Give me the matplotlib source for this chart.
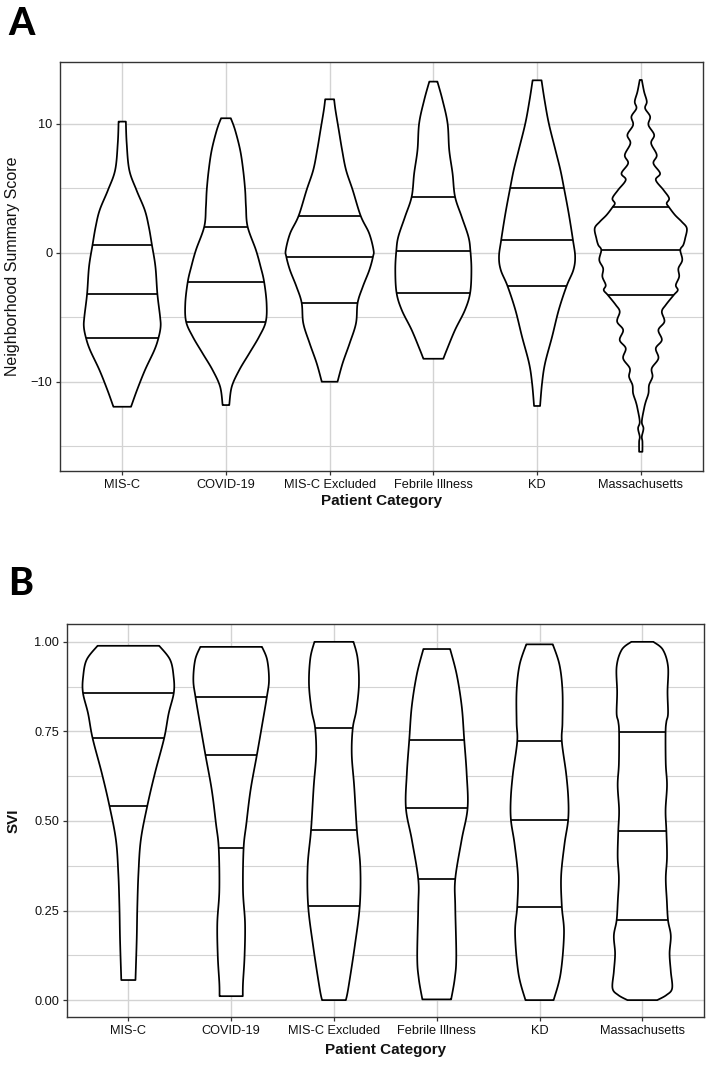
import numpy as np
import matplotlib
matplotlib.use("Agg")
import matplotlib.pyplot as plt

plt.rcParams['font.family'] = ['Liberation Sans', 'DejaVu Sans']

categories = ["MIS-C", "COVID-19", "MIS-C Excluded", "Febrile Illness", "KD", "Massachusetts"]

# Panel A: Neighborhood Summary Score, violin outline (score level, half width)
nss_misc_y = [-11.94, -10.64, -9.09, -7.55, -6.59, -5.74, -4.96, -3.2, -1.08, 0.62, 2.02, 3.31, 4.86, 6.41, 8.48, 10.16]
nss_misc_w = [0.085, 0.143, 0.22, 0.31, 0.35, 0.37, 0.365, 0.339, 0.32, 0.286, 0.256, 0.217, 0.137, 0.068, 0.043, 0.035]
nss_covid_y = [-11.81, -10.39, -9.09, -7.8, -6.51, -5.35, -3.93, -2.25, -1.08, 0.21, 2.02, 3.57, 4.86, 6.41, 7.96, 9.51, 10.42]
nss_covid_w = [0.032, 0.056, 0.129, 0.225, 0.32, 0.384, 0.392, 0.368, 0.334, 0.289, 0.209, 0.193, 0.185, 0.166, 0.137, 0.088, 0.047]
nss_excl_y = [-10.0, -8.57, -7.02, -5.47, -3.88, -2.63, -1.34, -0.31, 0.21, 1.5, 2.84, 4.86, 6.41, 7.96, 9.51, 11.06, 11.89]
nss_excl_w = [0.076, 0.125, 0.193, 0.254, 0.27, 0.32, 0.383, 0.418, 0.423, 0.381, 0.30, 0.222, 0.158, 0.12, 0.088, 0.056, 0.043]
nss_febrile_y = [-8.22, -7.54, -5.99, -4.44, -3.1, -1.34, 0.16, 1.24, 2.79, 4.34, 6.15, 7.96, 10.03, 11.84, 13.26]
nss_febrile_w = [0.096, 0.129, 0.209, 0.305, 0.355, 0.367, 0.357, 0.338, 0.273, 0.209, 0.185, 0.153, 0.137, 0.088, 0.039]
nss_kd_y = [-11.88, -10.12, -8.57, -6.51, -4.44, -2.58, -1.34, -0.31, 0.98, 3.05, 4.99, 6.41, 7.96, 10.03, 11.84, 13.36]
nss_kd_w = [0.029, 0.048, 0.077, 0.145, 0.209, 0.285, 0.35, 0.367, 0.346, 0.305, 0.26, 0.225, 0.177, 0.113, 0.072, 0.043]
nss_mass_y = [-15.43, -14.65, -14.26, -13.62, -13.1, -12.07, -11.55, -10.9, -10.26, -9.61, -8.96, -8.19,
              -7.41, -6.77, -5.99, -5.34, -4.57, -4.05, -3.28, -2.9, -2.51, -1.86, -1.22, -0.57, 0.21,
              0.6, 1.11, 1.89, 2.4, 2.92, 3.52, 3.83, 4.22, 4.86, 5.64, 6.15, 6.93, 7.57, 8.48, 9.13,
              9.9, 10.55, 11.19, 11.71, 12.48, 13.39]
nss_mass_w = [0.016, 0.016, 0.01, 0.026, 0.01, 0.032, 0.048, 0.074, 0.08, 0.113, 0.106, 0.17,
              0.145, 0.203, 0.17, 0.228, 0.203, 0.241, 0.318, 0.357, 0.338, 0.37, 0.363, 0.40, 0.381,
              0.41, 0.428, 0.444, 0.395, 0.33, 0.273, 0.25, 0.273, 0.219, 0.145, 0.186, 0.122, 0.154, 0.10, 0.129,
              0.074, 0.09, 0.042, 0.058, 0.032, 0.01]
nss_quartiles = [[-6.59, -3.2, 0.62], [-5.35, -2.25, 2.02], [-3.88, -0.31, 2.84],
                 [-3.1, 0.16, 4.34], [-2.58, 0.98, 5.04], [-3.28, 0.21, 3.52]]

# Panel B: SVI
svi_misc_y = [0.056, 0.168, 0.26, 0.354, 0.447, 0.542, 0.633, 0.731, 0.80, 0.858, 0.903, 0.95, 0.989]
svi_misc_w = [0.069, 0.081, 0.087, 0.098, 0.121, 0.184, 0.258, 0.348, 0.392, 0.442, 0.44, 0.406, 0.30]
svi_covid_y = [0.011, 0.047, 0.121, 0.214, 0.307, 0.424, 0.493, 0.587, 0.684, 0.763, 0.846, 0.894, 0.95, 0.986]
svi_covid_w = [0.113, 0.115, 0.13, 0.135, 0.115, 0.121, 0.148, 0.189, 0.25, 0.298, 0.347, 0.368, 0.35, 0.30]
svi_excl_y = [0.0, 0.034, 0.15, 0.263, 0.373, 0.475, 0.596, 0.686, 0.759, 0.81, 0.882, 0.954, 1.0]
svi_excl_w = [0.116, 0.14, 0.202, 0.251, 0.256, 0.223, 0.197, 0.173, 0.183, 0.218, 0.243, 0.23, 0.19]
svi_febrile_y = [0.002, 0.06, 0.121, 0.26, 0.338, 0.447, 0.536, 0.632, 0.728, 0.82, 0.909, 0.98]
svi_febrile_w = [0.14, 0.175, 0.19, 0.18, 0.18, 0.242, 0.30, 0.291, 0.267, 0.243, 0.194, 0.13]
svi_kd_y = [0.0, 0.074, 0.186, 0.261, 0.346, 0.436, 0.502, 0.561, 0.632, 0.722, 0.775, 0.864, 0.936, 0.993]
svi_kd_w = [0.137, 0.205, 0.238, 0.217, 0.21, 0.243, 0.278, 0.28, 0.259, 0.217, 0.223, 0.223, 0.194, 0.129]
svi_mass_y = [0.0, 0.014, 0.033, 0.08, 0.13, 0.18, 0.223, 0.28, 0.34, 0.40, 0.472, 0.53, 0.60, 0.66,
              0.747, 0.777, 0.80, 0.86, 0.931, 0.978, 1.0]
svi_mass_w = [0.145, 0.234, 0.29, 0.277, 0.265, 0.277, 0.25, 0.238, 0.228, 0.24, 0.234, 0.226, 0.24, 0.228,
              0.226, 0.234, 0.25, 0.245, 0.25, 0.2, 0.108]
svi_quartiles = [[0.542, 0.731, 0.858], [0.424, 0.684, 0.846], [0.263, 0.475, 0.759],
                 [0.338, 0.537, 0.727], [0.261, 0.503, 0.722], [0.223, 0.472, 0.747]]

nss_profiles = [(nss_misc_y, nss_misc_w), (nss_covid_y, nss_covid_w), (nss_excl_y, nss_excl_w),
                (nss_febrile_y, nss_febrile_w), (nss_kd_y, nss_kd_w), (nss_mass_y, nss_mass_w)]
svi_profiles = [(svi_misc_y, svi_misc_w), (svi_covid_y, svi_covid_w), (svi_excl_y, svi_excl_w),
                (svi_febrile_y, svi_febrile_w), (svi_kd_y, svi_kd_w), (svi_mass_y, svi_mass_w)]

LINE = 1.25
GRID = '#d3d3d3'
TEXT = '#111111'


def smooth_outline(ys, ws, n=16):
    """Catmull-Rom pass through the read outline points."""
    pts = np.column_stack([ys, ws])
    P = np.vstack([pts[0], pts, pts[-1]])
    out = []
    t = np.linspace(0, 1, n, endpoint=False)[:, None]
    for i in range(1, len(P) - 2):
        p0, p1, p2, p3 = P[i - 1], P[i], P[i + 1], P[i + 2]
        out.append(0.5 * (2 * p1 + (p2 - p0) * t + (2 * p0 - 5 * p1 + 4 * p2 - p3) * t ** 2
                          + (3 * p1 - p0 - 3 * p2 + p3) * t ** 3))
    out.append(P[-2][None, :])
    c = np.vstack(out)
    return c[:, 0], np.clip(c[:, 1], 0.004, None)


def draw_violin(ax, pos, ys, ws, quartiles):
    yy, hw = smooth_outline(ys, ws)
    xs = np.concatenate([pos - hw, (pos + hw)[::-1]])
    yv = np.concatenate([yy, yy[::-1]])
    ax.fill(xs, yv, facecolor='white', edgecolor='black', lw=LINE, zorder=3, joinstyle='round')
    order = np.argsort(yy)
    for q in quartiles:
        w = np.interp(q, yy[order], hw[order])
        ax.plot([pos - w, pos + w], [q, q], color='black', lw=LINE, zorder=4, solid_capstyle='butt')


def style_axis(ax, major, minor, ylim, labels):
    ax.set_xlim(0.4, 6.6)
    ax.set_ylim(*ylim)
    ax.set_xticks(range(1, 7))
    ax.set_xticklabels(categories)
    ax.set_yticks(major)
    ax.set_yticklabels(labels)
    ax.set_yticks(minor, minor=True)
    ax.grid(True, which='major', color=GRID, lw=1.0, zorder=0)
    ax.grid(True, which='minor', axis='y', color=GRID, lw=0.8, zorder=0)
    ax.set_axisbelow(True)
    ax.tick_params(axis='both', which='major', direction='out', length=3, width=0.9,
                   color='#333333', labelsize=9.2, labelcolor=TEXT, pad=2.5)
    ax.tick_params(axis='y', which='minor', length=0)
    for sp in ax.spines.values():
        sp.set_color('#333333')
        sp.set_linewidth(1.0)


fig = plt.figure(figsize=(7.06, 10.85), dpi=100)

axA = fig.add_axes([60 / 706, 1 - 471 / 1085, 643 / 706, 409 / 1085])
for i, (ys, ws) in enumerate(nss_profiles):
    draw_violin(axA, i + 1, ys, ws, nss_quartiles[i])
style_axis(axA, [-10, 0, 10], [-15, -5, 5], (-16.92, 14.78), ['\u221210', '0', '10'])
axA.set_ylabel('Neighborhood Summary Score', fontsize=11.5, color=TEXT)
axA.set_xlabel('Patient Category', fontsize=11, fontweight='bold', color=TEXT)
axA.yaxis.set_label_coords(-0.062, 0.5)
axA.xaxis.set_label_coords(0.5, -0.056)

axB = fig.add_axes([66.7 / 706, 1 - 1017.3 / 1085, 637.3 / 706, 393 / 1085])
for i, (ys, ws) in enumerate(svi_profiles):
    draw_violin(axB, i + 1, ys, ws, svi_quartiles[i])
style_axis(axB, [0, 0.25, 0.5, 0.75, 1.0], [0.125, 0.375, 0.625, 0.875], (-0.048, 1.049),
           ['0.00', '0.25', '0.50', '0.75', '1.00'])
axB.set_ylabel('SVI', fontsize=11, fontweight='bold', color=TEXT)
axB.set_xlabel('Patient Category', fontsize=11, fontweight='bold', color=TEXT)
axB.yaxis.set_label_coords(-0.073, 0.5)
axB.xaxis.set_label_coords(0.5, -0.066)

panel_font = dict(family=['Lato', 'Liberation Sans', 'DejaVu Sans'], fontsize=27, fontweight='black',
                  va='center', ha='left')
fig.text(8 / 706, 1 - 24 / 1085, 'A', **panel_font)
fig.text(8 / 706, 1 - 584 / 1085, 'B', **panel_font)

fig.savefig('out.png', dpi=100)
